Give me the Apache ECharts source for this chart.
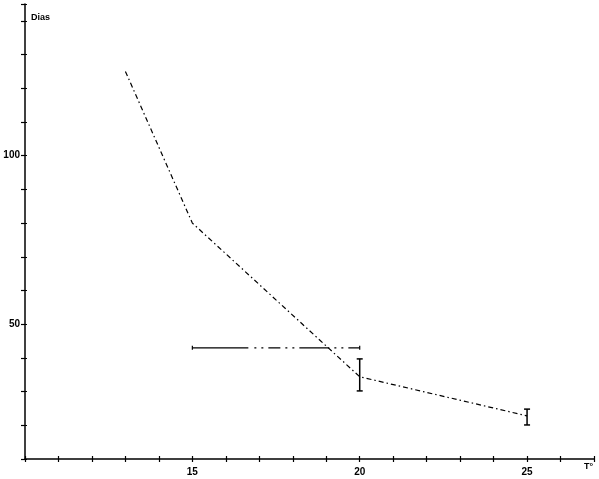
<!DOCTYPE html>
<html><head><meta charset="utf-8">
<script src="https://cdn.jsdelivr.net/npm/echarts@6/dist/echarts.min.js"></script>
<style>html,body{margin:0;padding:0;background:#fff}#c{width:599px;height:479px}</style>
</head><body><div id="c"></div>
<script>
const mainX = [13, 15, 20, 25];
const mainY = [125, 80, 34.4, 22.8];
const errX = [20, 25];
const errLow = [30.2, 20.1];
const errHigh = [39.7, 24.8];
const hLineX = [15, 20];
const hLineY = [43, 43];
const xLabels = [15, 20, 25];
const yLabels = [50, 100];

const chart = echarts.init(document.getElementById('c'));
const fontFam = 'Liberation Sans, Arial, sans-serif';
const xBase = {type: 'value', min: 10, max: 27, interval: 1, splitLine: {show: false}};
const yBase = {type: 'value', min: 10, max: 145, interval: 10, splitLine: {show: false}};
chart.setOption({
  animation: false,
  grid: {left: 25, right: 5, top: 4, bottom: 20},
  xAxis: [Object.assign({}, xBase, {
    axisLine: {lineStyle: {color: '#000', width: 1.5}},
    axisTick: {show: true, length: 3, lineStyle: {color: '#000', width: 1.2}},
    axisLabel: {
      margin: 8, color: '#000', fontSize: 10, fontWeight: 'bold', fontFamily: fontFam,
      formatter: v => xLabels.includes(v) ? String(v) : ''
    }
  }), Object.assign({}, xBase, {
    position: 'bottom',
    axisLine: {show: false},
    axisTick: {show: true, inside: true, length: 3, lineStyle: {color: '#000', width: 1.2}},
    axisLabel: {show: false}
  })],
  yAxis: [Object.assign({}, yBase, {
    axisLine: {lineStyle: {color: '#000', width: 1.5}},
    axisTick: {show: true, length: 4, lineStyle: {color: '#000', width: 1.2}},
    axisLabel: {
      margin: 5, color: '#000', fontSize: 10, fontWeight: 'bold', fontFamily: fontFam,
      padding: [0, 0, 8, 0],
      formatter: v => yLabels.includes(v) ? String(v) : ''
    }
  }), Object.assign({}, yBase, {
    position: 'left',
    axisLine: {show: false},
    axisTick: {show: true, inside: true, length: 2, lineStyle: {color: '#000', width: 1.2}},
    axisLabel: {show: false}
  })],
  graphic: [
    {type: 'text', left: 31, top: 13, style: {text: 'Dias', fill: '#000', font: 'bold 9px ' + fontFam}},
    {type: 'text', left: 584, top: 462, style: {text: 'T°', fill: '#000', font: 'bold 9px ' + fontFam}}
  ],
  series: [
    {
      type: 'line', data: mainX.map((x, i) => [x, mainY[i]]), symbol: 'none',
      lineStyle: {color: '#000', width: 1.2, type: [5, 3, 1.5, 3]}
    },
    {
      type: 'line', data: hLineX.map((x, i) => [x, hLineY[i]]), symbol: 'none',
      lineStyle: {color: '#000', width: 1.2,
        type: [56, 6, 2, 5, 2, 5, 12, 5, 2, 5, 2, 5, 30, 5, 2, 5, 2, 5, 15, 4, 2, 400]}
    },
    {
      type: 'custom',
      data: hLineX.map((x, i) => [x, hLineY[i]]),
      renderItem: (params, api) => {
        const p = api.coord([api.value(0), api.value(1)]);
        return {type: 'line', shape: {x1: p[0], y1: p[1] - 2, x2: p[0], y2: p[1] + 2},
          style: {stroke: '#000', lineWidth: 1.2}};
      }
    },
    {
      type: 'custom',
      data: errX.map((x, i) => [x, errLow[i], errHigh[i]]),
      renderItem: (params, api) => {
        const lo = api.coord([api.value(0), api.value(1)]);
        const hi = api.coord([api.value(0), api.value(2)]);
        const w = 3;
        const s = {stroke: '#000', lineWidth: 1.5};
        return {type: 'group', children: [
          {type: 'line', shape: {x1: lo[0], y1: lo[1], x2: hi[0], y2: hi[1]}, style: s},
          {type: 'line', shape: {x1: lo[0] - w, y1: lo[1], x2: lo[0] + w, y2: lo[1]}, style: s},
          {type: 'line', shape: {x1: hi[0] - w, y1: hi[1], x2: hi[0] + w, y2: hi[1]}, style: s}
        ]};
      }
    }
  ]
});
</script></body></html>
